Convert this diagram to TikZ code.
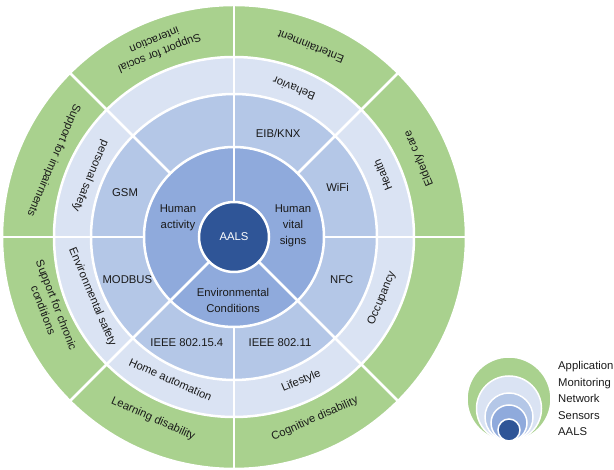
\documentclass[tikz,border=0pt]{standalone}
\usepackage{fontspec}
\setmainfont{Liberation Sans}
\definecolor{appg}{HTML}{A9D18E}
\definecolor{monc}{HTML}{DAE3F3}
\definecolor{netc}{HTML}{B4C7E7}
\definecolor{senc}{HTML}{8FAADC}
\definecolor{aalc}{HTML}{2F5597}
\definecolor{txt}{HTML}{1A1A1A}
\begin{document}
\begin{tikzpicture}[x=1pt,y=1pt,
  ringfill/.style={draw=white, line width=2.5pt},
  sep/.style={draw=white, line width=2.5pt},
  lab/.style={font=\fontsize{11.3}{14}\selectfont, text=txt, align=center, inner sep=0pt},
  senlab/.style={lab, font=\fontsize{11.3}{16}\selectfont},
  legc/.style={draw=white, line width=1.5pt},
  legt/.style={lab, anchor=base west},
]
\useasboundingbox (0,0) rectangle (614,470);
\coordinate (c) at (234,233);
% rings
\path[ringfill, fill=appg] (c) circle[radius=232];
\path[ringfill, fill=monc] (c) circle[radius=180];
\path[ringfill, fill=netc] (c) circle[radius=143];
\path[ringfill, fill=senc] (c) circle[radius=90];
% separators
\foreach \a in {0,45,...,315} \draw[sep] (c) ++(\a:90) -- ++(\a:142);
\foreach \a in {90,225,315} \draw[sep] (c) ++(\a:35) -- ++(\a:56);
\path[ringfill, fill=aalc] (c) circle[radius=35];
% center
\node[lab, text=white] (aals) at (c) {AALS};
% sensors
\node[senlab] (hact) at ([shift={(-56,19)}]c) {Human\\activity};
\node[senlab] (hvit) at ([shift={(59,11)}]c) {Human\\vital\\signs};
\node[senlab] (envc) at ([shift={(-1,-63)}]c) {Environmental\\Conditions};
% network
\node[lab] (eib) at ([shift={(67:113)}]c) {EIB/KNX};
\node[lab] (wifi) at ([shift={(25.7:115)}]c) {WiFi};
\node[lab] (nfc) at ([shift={(-21.7:116)}]c) {NFC};
\node[lab] (i11) at ([shift={(-66.5:115.5)}]c) {IEEE 802.11};
\node[lab] (i154) at ([shift={(246:116)}]c) {IEEE 802.15.4};
\node[lab] (modb) at ([shift={(202:115)}]c) {MODBUS};
\node[lab] (gsm) at ([shift={(158:117.5)}]c) {GSM};
% monitoring
\node[lab, rotate=157.5] (beh) at ([shift={(68:160)}]c) {Behavior};
\node[lab, rotate=112.5] (hea) at ([shift={(22.5:161)}]c) {Health};
\node[lab, rotate=67.5] (occ) at ([shift={(-22.5:160)}]c) {Occupancy};
\node[lab, rotate=23] (life) at ([shift={(-65:159)}]c) {Lifestyle};
\node[lab, rotate=336] (home) at ([shift={(246:156)}]c) {Home automation};
\node[lab, rotate=293] (envs) at ([shift={(203:154)}]c) {Environmental safety};
\node[lab, rotate=247] (pers) at ([shift={(157:156)}]c) {personal safety};
% application
\node[lab, rotate=202] (soc) at ([shift={(112:205)}]c) {Support for social\\interaction};
\node[lab, rotate=158] (ent) at ([shift={(68:205)}]c) {Entertainment};
\node[lab, rotate=113] (eld) at ([shift={(23:201)}]c) {Elderly care};
\node[lab, rotate=247] (imp) at ([shift={(157:196)}]c) {Support for impairments};
\node[lab, rotate=291] (chr) at ([shift={(201:197)}]c) {Support for chronic\\conditions};
\node[lab, rotate=336] (lrn) at ([shift={(246:199)}]c) {Learning disability};
\node[lab, rotate=24] (cog) at ([shift={(294:199)}]c) {Cognitive disability};
% legend
\path[legc, fill=appg] (509,71) circle[radius=42];
\path[legc, fill=monc] (509,61.5) circle[radius=32.5];
\path[legc, fill=netc] (509,53) circle[radius=24];
\path[legc, fill=senc] (509,47) circle[radius=18];
\path[legc, fill=aalc] (509,40) circle[radius=11];
\node[legt] (l1) at (558,100) {Application};
\node[legt] (l2) at (558,83.5) {Monitoring};
\node[legt] (l3) at (558,67) {Network};
\node[legt] (l4) at (558,50.5) {Sensors};
\node[legt] (l5) at (558,34) {AALS};
\end{tikzpicture}
\end{document}
